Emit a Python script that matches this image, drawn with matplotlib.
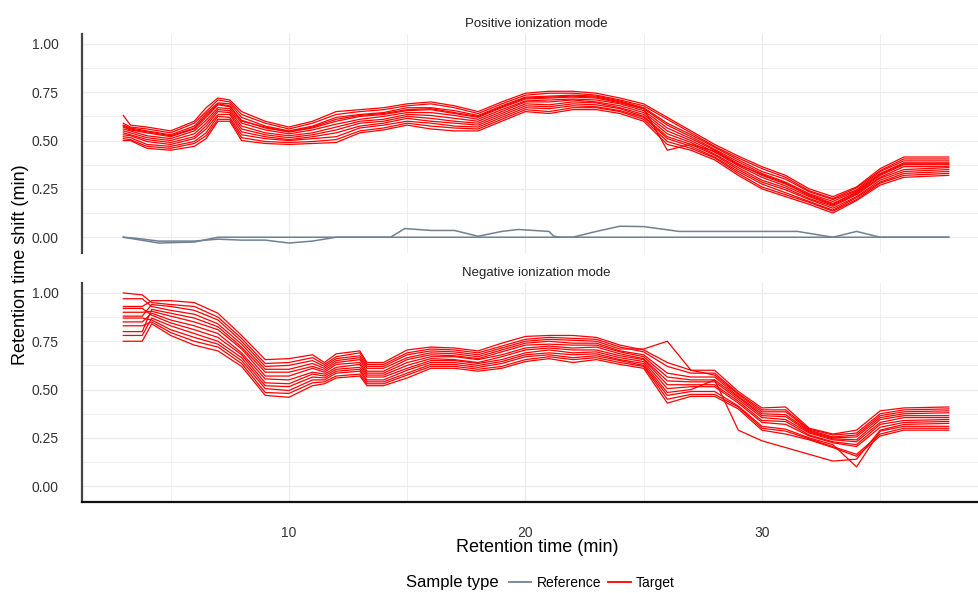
import matplotlib
matplotlib.use("Agg")
import matplotlib.pyplot as plt
from matplotlib.lines import Line2D

plt.rcParams['font.family'] = ['Liberation Sans', 'DejaVu Sans']

# retention time grid for the positive mode target curves (min)
t_pos = [3.0, 3.3, 4, 5, 6, 6.5, 7, 7.5, 8, 9, 10, 11, 12, 13, 14, 15, 16, 17, 18, 19,
         20, 21, 22, 23, 24, 25, 26, 27, 28, 29, 30, 31, 32, 33, 34, 35, 36, 37.9]

pos_targets = [
    [0.63, 0.58, 0.57, 0.55, 0.60, 0.67, 0.72, 0.71, 0.65, 0.60, 0.57, 0.60, 0.65, 0.66, 0.67, 0.69, 0.70, 0.68, 0.65, 0.70,
     0.745, 0.755, 0.755, 0.745, 0.72, 0.69, 0.62, 0.55, 0.48, 0.42, 0.365, 0.32, 0.25, 0.21, 0.26, 0.355, 0.415, 0.415],
    [0.59, 0.57, 0.56, 0.54, 0.59, 0.65, 0.71, 0.70, 0.635, 0.59, 0.56, 0.59, 0.635, 0.65, 0.66, 0.68, 0.69, 0.67, 0.64, 0.69,
     0.735, 0.745, 0.745, 0.735, 0.71, 0.68, 0.61, 0.54, 0.47, 0.41, 0.355, 0.31, 0.24, 0.20, 0.255, 0.345, 0.405, 0.405],
    [0.58, 0.565, 0.55, 0.53, 0.575, 0.64, 0.695, 0.69, 0.62, 0.575, 0.55, 0.575, 0.62, 0.635, 0.645, 0.67, 0.67, 0.655, 0.63, 0.68,
     0.725, 0.73, 0.735, 0.73, 0.705, 0.67, 0.59, 0.53, 0.465, 0.40, 0.34, 0.30, 0.235, 0.195, 0.245, 0.34, 0.395, 0.395],
    [0.57, 0.555, 0.54, 0.52, 0.56, 0.62, 0.685, 0.675, 0.605, 0.565, 0.545, 0.565, 0.60, 0.625, 0.635, 0.655, 0.66, 0.64, 0.62, 0.67,
     0.715, 0.72, 0.725, 0.72, 0.695, 0.665, 0.58, 0.52, 0.455, 0.39, 0.33, 0.285, 0.225, 0.185, 0.24, 0.33, 0.385, 0.385],
    [0.56, 0.55, 0.525, 0.51, 0.55, 0.605, 0.67, 0.665, 0.59, 0.555, 0.535, 0.555, 0.585, 0.61, 0.625, 0.645, 0.645, 0.63, 0.61, 0.66,
     0.705, 0.71, 0.715, 0.71, 0.69, 0.655, 0.565, 0.51, 0.45, 0.38, 0.32, 0.275, 0.22, 0.175, 0.23, 0.32, 0.375, 0.375],
    [0.55, 0.54, 0.515, 0.50, 0.535, 0.59, 0.66, 0.655, 0.575, 0.54, 0.525, 0.54, 0.57, 0.60, 0.61, 0.635, 0.63, 0.615, 0.60, 0.65,
     0.70, 0.70, 0.71, 0.70, 0.68, 0.645, 0.55, 0.50, 0.44, 0.37, 0.31, 0.265, 0.21, 0.165, 0.225, 0.31, 0.365, 0.365],
    [0.54, 0.53, 0.505, 0.49, 0.52, 0.575, 0.65, 0.645, 0.56, 0.53, 0.515, 0.53, 0.555, 0.59, 0.60, 0.625, 0.615, 0.60, 0.59, 0.64,
     0.69, 0.685, 0.70, 0.695, 0.67, 0.635, 0.535, 0.49, 0.43, 0.36, 0.295, 0.255, 0.20, 0.16, 0.22, 0.305, 0.35, 0.36],
    [0.53, 0.525, 0.495, 0.48, 0.51, 0.56, 0.635, 0.635, 0.545, 0.52, 0.505, 0.52, 0.54, 0.575, 0.59, 0.615, 0.60, 0.59, 0.58, 0.63,
     0.68, 0.675, 0.69, 0.685, 0.665, 0.625, 0.52, 0.48, 0.425, 0.35, 0.285, 0.245, 0.195, 0.15, 0.21, 0.295, 0.34, 0.35],
    [0.52, 0.515, 0.48, 0.47, 0.495, 0.54, 0.625, 0.62, 0.53, 0.51, 0.50, 0.51, 0.52, 0.565, 0.58, 0.60, 0.59, 0.575, 0.57, 0.62,
     0.67, 0.665, 0.68, 0.675, 0.655, 0.62, 0.51, 0.47, 0.415, 0.34, 0.275, 0.23, 0.185, 0.14, 0.205, 0.285, 0.33, 0.34],
    [0.51, 0.505, 0.47, 0.46, 0.485, 0.525, 0.61, 0.61, 0.515, 0.495, 0.49, 0.495, 0.505, 0.55, 0.565, 0.59, 0.575, 0.565, 0.56, 0.61,
     0.66, 0.65, 0.67, 0.67, 0.65, 0.61, 0.495, 0.46, 0.41, 0.33, 0.26, 0.22, 0.18, 0.135, 0.195, 0.28, 0.32, 0.33],
    [0.50, 0.50, 0.46, 0.45, 0.47, 0.51, 0.60, 0.60, 0.50, 0.485, 0.48, 0.485, 0.49, 0.54, 0.555, 0.58, 0.56, 0.55, 0.55, 0.60,
     0.65, 0.64, 0.66, 0.66, 0.64, 0.60, 0.48, 0.45, 0.40, 0.32, 0.25, 0.21, 0.17, 0.125, 0.19, 0.27, 0.31, 0.32],
    [0.575, 0.56, 0.545, 0.525, 0.565, 0.63, 0.69, 0.68, 0.60, 0.57, 0.545, 0.57, 0.61, 0.63, 0.64, 0.66, 0.665, 0.645, 0.625, 0.675,
     0.72, 0.725, 0.73, 0.725, 0.70, 0.665, 0.45, 0.48, 0.445, 0.375, 0.325, 0.28, 0.215, 0.17, 0.235, 0.325, 0.38, 0.38],
]

# reference samples, positive mode
t_ref = [3.0, 3.5, 4.5, 6.0, 7.0, 8.0, 9.0, 10.0, 11.0, 12.0, 14.3, 14.9, 16.0, 17.0, 18.0,
         19.0, 19.7, 21.0, 21.2, 21.5, 22.0, 23.0, 24.0, 25.0, 26.5, 31.5, 33.0, 34.0, 35.0, 37.9]
ref_a = [0, -0.01, -0.03, -0.025, 0, 0, 0, 0, 0, 0, 0, 0, 0, 0, 0,
         0, 0, 0, 0, 0, 0, 0, 0, 0, 0, 0, 0, 0, 0, 0]
ref_b = [0, -0.005, -0.02, -0.02, -0.01, -0.015, -0.015, -0.03, -0.02, 0, 0, 0.045, 0.035, 0.035, 0.005,
         0.03, 0.04, 0.03, 0.005, 0, 0, 0.03, 0.057, 0.055, 0.03, 0.03, 0, 0.03, 0, 0]

# retention time grid for the negative mode target curves (min)
t_neg = [3.0, 3.8, 4.2, 5, 6, 7, 8, 9, 10, 11, 11.5, 12, 13, 13.3, 14, 15, 16, 17, 18, 19,
         20, 21, 22, 23, 24, 25, 26, 27, 28, 29, 30, 31, 32, 33, 34, 35, 36, 37.9]

neg_targets = [
    [0.93, 0.93, 0.96, 0.96, 0.95, 0.895, 0.78, 0.655, 0.66, 0.68, 0.64, 0.685, 0.70, 0.64, 0.64, 0.705, 0.72, 0.715, 0.70, 0.74,
     0.775, 0.78, 0.78, 0.77, 0.73, 0.705, 0.64, 0.60, 0.60, 0.49, 0.405, 0.41, 0.30, 0.27, 0.29, 0.39, 0.405, 0.41],
    [1.00, 0.99, 0.95, 0.94, 0.93, 0.875, 0.765, 0.635, 0.64, 0.665, 0.63, 0.67, 0.69, 0.63, 0.63, 0.69, 0.71, 0.705, 0.69, 0.725,
     0.76, 0.77, 0.765, 0.76, 0.72, 0.695, 0.62, 0.585, 0.585, 0.48, 0.395, 0.395, 0.295, 0.265, 0.275, 0.375, 0.395, 0.40],
    [0.88, 0.88, 0.94, 0.93, 0.91, 0.86, 0.75, 0.62, 0.625, 0.65, 0.62, 0.66, 0.675, 0.62, 0.62, 0.68, 0.70, 0.695, 0.68, 0.715,
     0.75, 0.76, 0.755, 0.75, 0.71, 0.71, 0.75, 0.60, 0.575, 0.475, 0.385, 0.385, 0.29, 0.255, 0.265, 0.365, 0.385, 0.39],
    [0.97, 0.97, 0.93, 0.91, 0.89, 0.84, 0.735, 0.605, 0.605, 0.635, 0.61, 0.65, 0.665, 0.61, 0.61, 0.665, 0.69, 0.685, 0.67, 0.705,
     0.74, 0.75, 0.74, 0.74, 0.70, 0.68, 0.585, 0.565, 0.565, 0.465, 0.375, 0.37, 0.285, 0.25, 0.255, 0.355, 0.375, 0.38],
    [0.80, 0.80, 0.915, 0.895, 0.87, 0.825, 0.72, 0.59, 0.59, 0.62, 0.60, 0.64, 0.655, 0.595, 0.595, 0.655, 0.68, 0.675, 0.66, 0.695,
     0.73, 0.735, 0.73, 0.73, 0.695, 0.67, 0.565, 0.55, 0.55, 0.46, 0.365, 0.36, 0.28, 0.245, 0.24, 0.345, 0.365, 0.365],
    [0.90, 0.90, 0.905, 0.88, 0.85, 0.81, 0.71, 0.57, 0.57, 0.61, 0.59, 0.63, 0.64, 0.585, 0.585, 0.64, 0.67, 0.67, 0.655, 0.68,
     0.715, 0.725, 0.715, 0.72, 0.685, 0.66, 0.545, 0.54, 0.54, 0.45, 0.355, 0.345, 0.275, 0.24, 0.23, 0.33, 0.355, 0.355],
    [0.85, 0.85, 0.895, 0.86, 0.83, 0.79, 0.69, 0.555, 0.55, 0.59, 0.58, 0.615, 0.63, 0.575, 0.575, 0.625, 0.66, 0.655, 0.64, 0.67,
     0.705, 0.715, 0.705, 0.705, 0.675, 0.655, 0.525, 0.525, 0.525, 0.44, 0.34, 0.335, 0.265, 0.23, 0.215, 0.32, 0.34, 0.345],
    [0.92, 0.92, 0.885, 0.845, 0.81, 0.77, 0.68, 0.535, 0.53, 0.58, 0.57, 0.605, 0.615, 0.565, 0.565, 0.61, 0.65, 0.65, 0.635, 0.655,
     0.69, 0.705, 0.69, 0.695, 0.665, 0.645, 0.505, 0.515, 0.515, 0.43, 0.33, 0.32, 0.26, 0.225, 0.205, 0.305, 0.33, 0.335],
    [0.78, 0.78, 0.87, 0.83, 0.79, 0.75, 0.665, 0.52, 0.515, 0.565, 0.56, 0.595, 0.605, 0.55, 0.55, 0.60, 0.64, 0.64, 0.625, 0.645,
     0.68, 0.69, 0.68, 0.685, 0.655, 0.635, 0.485, 0.50, 0.55, 0.29, 0.235, 0.20, 0.165, 0.13, 0.14, 0.29, 0.32, 0.325],
    [0.87, 0.87, 0.86, 0.81, 0.77, 0.735, 0.65, 0.505, 0.495, 0.55, 0.55, 0.585, 0.595, 0.54, 0.54, 0.585, 0.63, 0.63, 0.615, 0.635,
     0.67, 0.68, 0.665, 0.675, 0.65, 0.625, 0.47, 0.49, 0.49, 0.415, 0.31, 0.295, 0.25, 0.215, 0.10, 0.285, 0.31, 0.31],
    [0.83, 0.83, 0.85, 0.795, 0.75, 0.72, 0.635, 0.485, 0.48, 0.535, 0.54, 0.57, 0.58, 0.53, 0.53, 0.575, 0.62, 0.62, 0.605, 0.62,
     0.655, 0.67, 0.655, 0.665, 0.64, 0.62, 0.45, 0.475, 0.475, 0.41, 0.30, 0.285, 0.245, 0.205, 0.165, 0.27, 0.30, 0.30],
    [0.75, 0.75, 0.84, 0.78, 0.73, 0.70, 0.62, 0.47, 0.46, 0.52, 0.53, 0.56, 0.57, 0.52, 0.52, 0.56, 0.61, 0.61, 0.595, 0.61,
     0.645, 0.66, 0.64, 0.655, 0.63, 0.61, 0.43, 0.465, 0.465, 0.40, 0.29, 0.27, 0.24, 0.20, 0.155, 0.26, 0.29, 0.29],
]

panel_titles = ['Positive ionization mode', 'Negative ionization mode']
y_ticks = [0.0, 0.25, 0.5, 0.75, 1.0]
y_tick_labels = ['0.00', '0.25', '0.50', '0.75', '1.00']
x_ticks = [10, 20, 30]

ref_color = '#6f8193'
target_color = '#ff0000'
grid_color = '#ececec'

fig = plt.figure(figsize=(9.79, 5.93), dpi=100)
ax_top = fig.add_axes([0.0838, 0.5734, 0.9275, 0.3693])
ax_bot = fig.add_axes([0.0838, 0.1535, 0.9275, 0.3693])

for ax, curves, tt in [(ax_top, pos_targets, t_pos), (ax_bot, neg_targets, t_neg)]:
    for c in curves:
        ax.plot(tt, c, color=target_color, lw=0.9, zorder=3)

ax_top.plot(t_ref, ref_a, color=ref_color, lw=1.1, zorder=2)
ax_top.plot(t_ref, ref_b, color=ref_color, lw=1.1, zorder=2)

for ax, title in zip([ax_top, ax_bot], panel_titles):
    ax.set_xlim(1.255, 39.645)
    ax.set_ylim(-0.0815, 1.0515)
    ax.set_xticks(x_ticks)
    ax.set_xticks([5, 15, 25, 35], minor=True)
    ax.set_yticks(y_ticks)
    ax.set_yticks([0.125, 0.375, 0.625, 0.875], minor=True)
    ax.set_yticklabels(y_tick_labels)
    ax.grid(True, which='major', color=grid_color, lw=0.9, zorder=0)
    ax.grid(True, which='minor', color=grid_color, lw=0.6, zorder=0)
    ax.tick_params(which='both', length=0)
    ax.tick_params(axis='y', pad=17, labelsize=10, labelcolor='#333333')
    ax.tick_params(axis='x', pad=17, labelsize=10, labelcolor='#333333')
    for s in ['top', 'right', 'bottom']:
        ax.spines[s].set_visible(False)
    ax.spines['left'].set_color('#444444')
    ax.spines['left'].set_linewidth(1.6)
    ax.set_title(title, fontsize=9.5, pad=5, color='#222222')

ax_top.tick_params(axis='x', labelbottom=False)
ax_bot.spines['bottom'].set_visible(True)
ax_bot.spines['bottom'].set_color('#111111')
ax_bot.spines['bottom'].set_linewidth(1.6)

fig.text(0.549, 1 - 548 / 593, 'Retention time (min)', fontsize=13, ha='center', va='center')
fig.text(0.021, 1 - 265 / 593, 'Retention time shift (min)', fontsize=13, ha='center', va='center',
         rotation=90)

# legend
fig.text(0.415, 1 - 583 / 593, 'Sample type', fontsize=12, ha='left', va='center')
handles = [Line2D([], [], color=ref_color, lw=1.3), Line2D([], [], color=target_color, lw=1.3)]
fig.legend(handles, ['Reference', 'Target'], loc='center left', bbox_to_anchor=(0.52, 1 - 583 / 593),
           ncol=2, frameon=False, fontsize=10, handlelength=1.6, handletextpad=0.4,
           columnspacing=0.5, borderpad=0, borderaxespad=0)

fig.savefig('out.png', dpi=100)
